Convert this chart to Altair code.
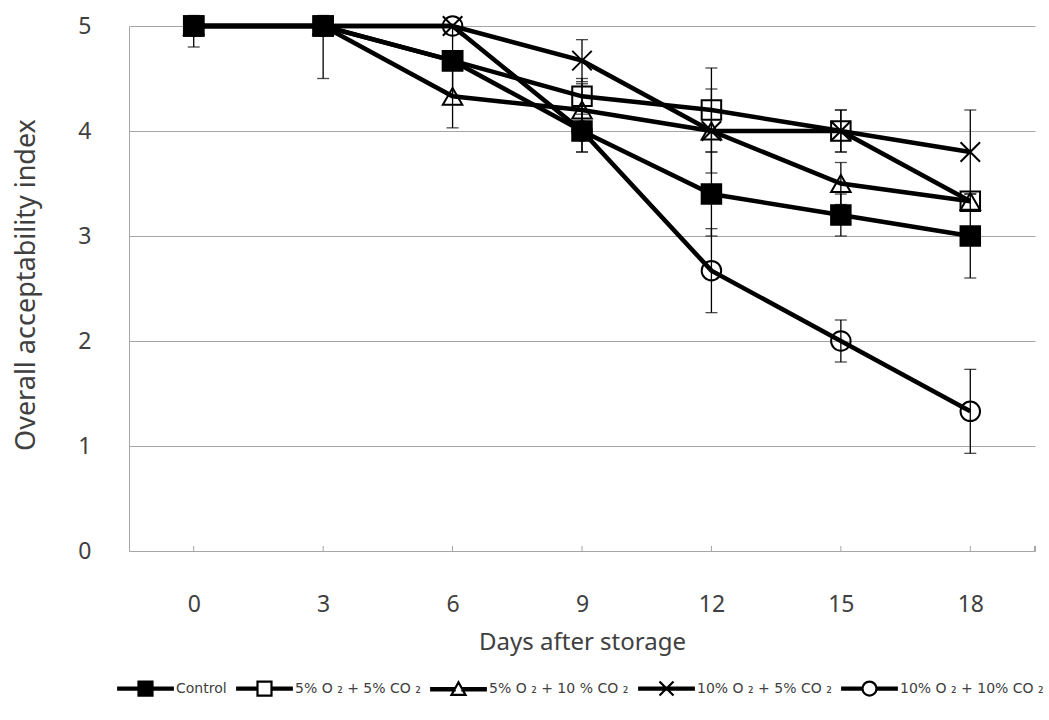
import altair as alt
import pandas as pd

days = [0, 3, 6, 9, 12, 15, 18]
series = ["Control", "5% O ₂ + 5% CO ₂", "5% O ₂ + 10 % CO ₂", "10% O ₂ + 5% CO ₂", "10% O ₂ + 10% CO ₂"]

control = [5, 5, 4.67, 4.0, 3.4, 3.2, 3.0]
o5_co5 = [5, 5, 4.67, 4.33, 4.2, 4.0, 3.33]
o5_co10 = [5, 5, 4.33, 4.2, 4.0, 3.5, 3.33]
o10_co5 = [5, 5, 5, 4.67, 4.0, 4.0, 3.8]
o10_co10 = [5, 5, 5, 4.0, 2.67, 2.0, 1.33]

control_sd = [0.2, 0.5, 0, 0.2, 0.4, 0.2, 0.4]
o5_co5_sd = [0, 0, 0.33, 0.17, 0.4, 0.2, 0]
o5_co10_sd = [0, 0, 0.3, 0.25, 0.4, 0.2, 0]
o10_co5_sd = [0, 0, 0, 0.2, 0, 0.2, 0.4]
o10_co10_sd = [0, 0, 0, 0.2, 0.4, 0.2, 0.4]

bar_top_limit = 5.1  # error bars are cut just above the axis maximum

values = [control, o5_co5, o5_co10, o10_co5, o10_co10]
sds = [control_sd, o5_co5_sd, o5_co10_sd, o10_co5_sd, o10_co10_sd]

rows = []
for i, name in enumerate(series):
    for d, v, e in zip(days, values[i], sds[i]):
        rows.append({"series": name, "order": i, "day": d, "value": v, "sd": e,
                     "low": v - e, "high": min(v + e, bar_top_limit)})
df = pd.DataFrame(rows)
ticks_df = pd.DataFrame({"day": days})

W, H = 906, 525
FONT = "Noto Sans"
LFONT = "DejaVu Sans"
TXT = "#404040"
GRID = "#a6a6a6"

xs = alt.Scale(type="point", padding=0.5, domain=days)
ys = alt.Scale(domain=[0, 5], nice=False)

x_axis = alt.Axis(labelAngle=0, ticks=False, labelPadding=42, domainColor=GRID,
                  labelFontSize=23, labelFont=FONT, labelColor=TXT,
                  title="Days after storage", titleFontSize=24, titleFont=FONT,
                  titleColor=TXT, titleFontWeight="normal", titlePadding=14, grid=False)
y_axis = alt.Axis(values=[0, 1, 2, 3, 4, 5], format="d", ticks=False, labelPadding=38,
                  domainColor=GRID, grid=True, gridColor=GRID, gridWidth=1,
                  labelFontSize=23, labelFont=FONT, labelColor=TXT,
                  title="Overall acceptability index", titleFontSize=27, titleFont=FONT,
                  titleColor=TXT, titleFontWeight="normal", titleX=-103, titleY=H / 2 - 4,
                  titleAngle=-90, titleAlign="center", titleBaseline="middle")

base = alt.Chart(df)

tick_marks = alt.Chart(ticks_df).mark_rule(color=GRID, strokeWidth=1).encode(
    x=alt.X("day:O", scale=xs, axis=x_axis),
    y=alt.value(H - 5), y2=alt.value(H),
)
end_tick = alt.Chart(ticks_df).mark_rule(color=GRID, strokeWidth=1).encode(
    x=alt.value(W), y=alt.value(H - 5), y2=alt.value(H),
)

err = base.transform_filter("datum.sd > 0")
err_rule = err.mark_rule(color="black", strokeWidth=1.3).encode(
    x=alt.X("day:O", scale=xs),
    y=alt.Y("low:Q", scale=ys, axis=y_axis), y2="high:Q",
)
cap_low = err.mark_tick(color="black", thickness=1.3, size=12).encode(
    x=alt.X("day:O", scale=xs), y=alt.Y("low:Q", scale=ys))
cap_high = err.mark_tick(color="black", thickness=1.3, size=12).encode(
    x=alt.X("day:O", scale=xs), y=alt.Y("high:Q", scale=ys))

lines = base.mark_line(color="black", strokeWidth=4.5).encode(
    x=alt.X("day:O", scale=xs),
    y=alt.Y("value:Q", scale=ys),
    detail="series:N",
    order="day:Q",
)

xpath = "M-1,-1L1,1M-1,1L1,-1"
points = base.mark_point(filled=True, size=380, stroke="black", strokeWidth=2, opacity=1).encode(
    x=alt.X("day:O", scale=xs),
    y=alt.Y("value:Q", scale=ys),
    shape=alt.Shape("series:N", scale=alt.Scale(domain=series,
                    range=["square", "square", "triangle-up", xpath, "circle"]), legend=None),
    fill=alt.Fill("series:N", scale=alt.Scale(domain=series,
                  range=["black", "transparent", "transparent", "transparent", "transparent"]), legend=None),
)

# legend symbols: thick line with the series marker on it
L = 3.9
h = 0.15
def bars(gap):
    return f"M{-L},{-h}H{-gap}V{h}H{-L}Z M{gap},{-h}H{L}V{h}H{gap}Z "
sq = "M-1,-1H1V1H-1Z"
solid_sq = " ".join(f"M{-a},{-a}H{a}V{a}H{-a}Z" for a in (1, 0.8, 0.6, 0.4, 0.2, 0.05))
legend_paths = [
    bars(1) + solid_sq,
    bars(1) + sq,
    bars(0.55) + "M0,-1L1,0.8L-1,0.8Z",
    f"M{-L},{-h}H{L}V{h}H{-L}Z " + xpath,
    bars(1) + "M1,0A1,1 0 1,1 -1,0A1,1 0 1,1 1,0Z",
]
legend_layer = base.transform_filter("false").mark_point(
    filled=False, color="black", stroke="black", strokeWidth=2.2, opacity=1
).encode(
    shape=alt.Shape("series:N", scale=alt.Scale(domain=series, range=legend_paths),
                    legend=alt.Legend(title=None, orient="none", legendX=8, legendY=654,
                                      direction="horizontal", symbolSize=196,
                                      symbolStrokeWidth=2.2, symbolStrokeColor="black",
                                      symbolOpacity=1,
                                      labelOffset=22, columnPadding=5, labelFontSize=14,
                                      labelFont=LFONT, labelColor=TXT, labelLimit=300)),
)

chart = alt.layer(tick_marks, end_tick, err_rule, cap_low, cap_high, lines, points, legend_layer).resolve_scale(
    shape="independent"
).properties(
    width=W, height=H, padding={"left": 11, "top": 12, "right": 5, "bottom": 5},
    background="white",
).configure_view(stroke=None)

chart.save("out.html", embed_options={"renderer": "svg", "actions": False})
